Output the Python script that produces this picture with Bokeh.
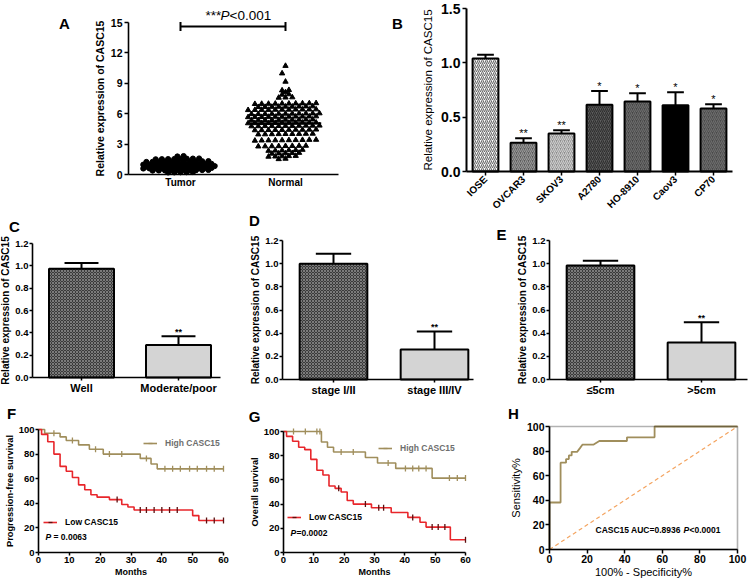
import numpy as np
from bokeh.plotting import figure
from bokeh.layouts import column, row
from bokeh.models import (Range1d, FixedTicker, Label, Legend, LegendItem, BoxAnnotation,
                          ColumnDataSource, PrintfTickFormatter)
from bokeh.core.properties import value
from bokeh.embed import file_html
from bokeh.resources import INLINE

FONT = "Liberation Sans"

# ======================= DATA =======================
# ---- Panel A: scatter of relative expression ----
a_groups = ["Tumor", "Normal"]
a_tumor = [
    1.82, 1.78,
    1.52, 1.56, 1.50, 1.58, 1.54, 1.53, 1.57, 1.51,
    1.26, 1.30, 1.28, 1.24, 1.32, 1.27, 1.29, 1.25, 1.31, 1.28, 1.30,
    1.02, 1.00, 1.04, 0.98, 1.03, 0.99, 1.01, 1.05, 0.97, 1.02, 1.00, 1.03,
    0.80, 0.82, 0.78, 0.81, 0.79, 0.83, 0.77, 0.80, 0.82, 0.78, 0.81, 0.79,
    0.62, 0.60, 0.64, 0.61, 0.63, 0.59, 0.62, 0.65, 0.60, 0.63, 0.61, 0.62,
    0.42, 0.40, 0.44, 0.41, 0.43, 0.39, 0.42, 0.45, 0.40, 0.43,
    0.22, 0.20, 0.24, 0.21, 0.23,
]
a_normal = [
    10.72, 9.98, 9.16,
    8.34, 8.30, 8.12,
    7.92, 7.88,
    7.62, 7.58, 7.60,
    7.00, 6.98, 7.02, 6.96, 7.04, 6.99, 7.01, 6.97, 7.03, 7.00,
    6.68, 6.70, 6.66, 6.72, 6.69, 6.71, 6.67, 6.73, 6.70,
    6.38, 6.40, 6.42, 6.36, 6.41, 6.39, 6.37, 6.43, 6.40, 6.38, 6.42,
    6.02, 5.98, 6.00, 6.04, 5.96, 6.01, 5.99, 6.03, 5.97, 6.00, 6.02,
    5.72, 5.68, 5.70, 5.74, 5.66, 5.71, 5.69, 5.73, 5.67, 5.70, 5.72,
    5.38, 5.40, 5.36, 5.42, 5.39, 5.41, 5.37, 5.43, 5.40, 5.38,
    5.08, 5.10, 5.06, 5.12, 5.09, 5.11, 5.07, 5.13, 5.10, 5.08, 5.12,
    4.78, 4.80, 4.76, 4.82, 4.79, 4.81, 4.77, 4.83, 4.80, 4.78, 4.82,
    4.42, 4.40, 4.38, 4.44, 4.41, 4.39, 4.43, 4.37, 4.40, 4.42,
    4.00, 3.98, 3.96, 4.02, 3.99, 4.01, 3.97, 4.03, 4.00,
    3.38, 3.36, 3.40, 3.42, 3.34, 3.39, 3.41, 3.37, 3.43, 3.38,
    2.82, 2.80, 2.78, 2.84, 2.81, 2.79, 2.83, 2.77,
    2.40, 2.36, 2.44, 2.38, 2.42, 2.34,
    2.10, 2.08, 2.12, 2.06, 2.14,
    1.80, 1.78, 1.82, 1.76, 1.84,
    1.52, 1.56,
]
a_yticks = [0, 3, 6, 9, 12, 15]
a_sig = ["***", "P", "<0.001"]
a_bracket_y = 14.6

# ---- Panel B: cell lines ----
b_cells = ["IOSE", "OVCAR3", "SKOV3", "A2780", "HO-8910", "Caov3", "CP70"]
b_mean = [1.04, 0.265, 0.35, 0.615, 0.645, 0.61, 0.58]
b_sem = [0.035, 0.04, 0.03, 0.125, 0.075, 0.12, 0.04]
b_sig = ["", "**", "**", "*", "*", "*", "*"]
b_yticks = [0.0, 0.5, 1.0, 1.5]

# ---- Panels C, D, E ----
cde_yticks = [0.0, 0.2, 0.4, 0.6, 0.8, 1.0, 1.2]
c_groups = ["Well", "Moderate/poor"]
c_mean = [0.975, 0.29]
c_sem = [0.05, 0.08]
c_sig = ["", "**"]
d_groups = ["stage I/II", "stage III/IV"]
d_mean = [1.0, 0.26]
d_sem = [0.085, 0.155]
d_sig = ["", "**"]
e_groups = ["\u22645cm", ">5cm"]
e_mean = [0.985, 0.32]
e_sem = [0.04, 0.175]
e_sig = ["", "**"]

# ---- Panel F: progression-free survival ----
km_end = 60
f_high_t = [0, 2, 7, 9, 13, 16.5, 21, 33, 36.5, 38.5]
f_high_s = [100, 97, 94, 91, 87.5, 84, 80, 76.5, 72, 68]
f_high_cens = [5, 11, 18.5, 23, 27, 35, 41, 43.5, 46, 49, 51.5, 54.5, 57, 60]
f_low_t = [0, 1, 3, 5, 7, 9, 11, 13, 15, 17, 19, 23, 27, 29, 31, 50, 52]
f_low_s = [100, 96, 90, 80, 70, 66, 61, 55, 51, 47, 45, 43, 39, 37, 34.5, 30, 26]
f_low_cens = [25.5, 33, 35, 37.5, 40, 42.5, 45, 54.5, 57, 60]

# ---- Panel G: overall survival ----
g_high_t = [0, 12.5, 14.5, 16.5, 27, 31, 37, 49]
g_high_s = [100, 91.3, 87, 83, 78.5, 74, 69.5, 61.5]
g_high_cens = [3.3, 7.2, 11, 12, 19, 23, 34.5, 40.2, 42.6, 44.6, 47, 54.7, 57.3, 60]
g_low_t = [0, 1, 3, 5, 7, 9, 11, 13, 15, 17, 19, 21, 23, 29, 35.5, 41, 45, 47, 55]
g_low_s = [100, 96, 92, 87, 85, 77, 68, 64, 55, 53, 50, 43, 40, 37, 33, 29, 25, 21, 10.5]
g_low_cens = [18.2, 27, 31.4, 33, 42.6, 49, 51, 53.2, 60]
km_xticks = [0, 10, 20, 30, 40, 50, 60]
km_yticks = [0, 20, 40, 60, 80, 100]

# ---- Panel H: ROC ----
h_fpr = [0, 0, 5.9, 5.9, 8.8, 8.8, 10.3, 10.3, 11.8, 11.8, 14.7, 16.2, 17.6, 23.5,
         26.5, 41.2, 41.2, 55.9, 55.9, 100]
h_tpr = [0, 38.2, 38.2, 70.6, 70.6, 73.5, 73.5, 76.5, 76.5, 79.4, 79.4, 82.4, 85.3, 85.3,
         88.2, 88.2, 91.2, 91.2, 100, 100]
h_chance = [0, 100]
h_ticks = [0, 20, 40, 60, 80, 100]

# ======================= STYLES =======================
C_HIGH = "#A08E5C"
C_LOW = "#E8262B"
b_fill = ["white", "#5a5a5a", "#8c8c8c", "#5e5e5e", "#454545", "black", "#4a4a4a"]
b_hcol = ["#6a6a6a", "#9a9a9a", "#d0d0d0", "#2e2e2e", "#6e6e6e", "black", "#6e6e6e"]
b_hpat = ["/", "/", "/", "/", "/", " ", "/"]
cde_fill = ["#3a3a3a", "#d4d4d4"]
cde_hpat = ["x", " "]


def lin_range(size, p1, v1, p2, v2, flip=False):
    s = (v2 - v1) / (p2 - p1)
    a = v1 - p1 * s
    b = v1 + (size - p1) * s
    return (b, a) if flip else (a, b)


class Geo:
    """Pixel geometry of one panel: figure size and two pixel<->value anchors per axis."""

    def __init__(self, w, h, xmap, ymap):
        self.w, self.h = w, h
        self.xr = lin_range(w, *xmap)
        self.yr = lin_range(h, *ymap, flip=True)

    def data(self, px, py):
        x = self.xr[0] + px * (self.xr[1] - self.xr[0]) / self.w
        y = self.yr[1] - py * (self.yr[1] - self.yr[0]) / self.h
        return x, y


def base_fig(g, xfix, yfix, xb, yb, tick_out=4, standoff=2, alstand=2):
    p = figure(width=g.w, height=g.h, x_range=Range1d(*g.xr), y_range=Range1d(*g.yr),
               output_backend="svg", toolbar_location=None, min_border=0)
    p.xgrid.visible = False
    p.ygrid.visible = False
    p.outline_line_color = None
    p.background_fill_color = "white"
    p.border_fill_color = "white"
    p.xaxis.fixed_location = xfix
    p.yaxis.fixed_location = yfix
    p.xaxis.bounds = xb
    p.yaxis.bounds = yb
    for ax in (p.xaxis[0], p.yaxis[0]):
        ax.axis_line_color = "black"
        ax.axis_line_width = 1.6
        ax.major_tick_line_color = "black"
        ax.major_tick_line_width = 1.5
        ax.major_tick_in = 0
        ax.major_tick_out = tick_out
        ax.minor_tick_line_color = None
        ax.major_label_text_font = FONT
        ax.major_label_text_font_style = "bold"
        ax.major_label_text_color = "black"
        ax.axis_label_text_font = FONT
        ax.axis_label_text_color = "black"
        ax.axis_label_text_font_style = "bold"
        ax.major_label_standoff = standoff
        ax.axis_label_standoff = alstand
    return p


def label(p, x, y, text, size, style="bold", align="left", baseline="middle", xoff=0,
          color="black"):
    p.add_layout(Label(x=x, y=y, text=text, text_font=FONT, text_font_size=size,
                       text_font_style=style, text_align=align, text_baseline=baseline,
                       x_offset=xoff, text_color=color))


def label_px(p, g, px, py, text, size, **kw):
    x, y = g.data(px, py)
    label(p, x, y, text, size, **kw)


def letter(p, g, px, py, txt):
    label_px(p, g, px, py, txt, "15px", align="center")


def error_bars(p, xs, means, errs, cap_w, lw=2):
    tops = [m + e for m, e in zip(means, errs)]
    p.segment(x0=xs, y0=means, x1=xs, y1=tops, line_color="black", line_width=lw)
    p.segment(x0=[x - cap_w / 2 for x in xs], y0=tops, x1=[x + cap_w / 2 for x in xs],
              y1=tops, line_color="black", line_width=lw)
    return tops


def swarm_offsets(vals, spacing, gap=0.1):
    """Row-wise scatter layout: alternate rows sit on a half-step shifted lattice."""
    vals = np.asarray(vals, dtype=float)
    order = np.argsort(vals)
    offs = np.zeros(len(vals))
    clusters, cur = [], [order[0]]
    for a, b in zip(order[:-1], order[1:]):
        if vals[b] - vals[a] > gap:
            clusters.append(cur)
            cur = [b]
        else:
            cur.append(b)
    clusters.append(cur)
    for k, c in enumerate(clusters):
        n = len(c)
        half = 0.5 if k % 2 else 0.0
        cand = sorted([m + half for m in range(-n - 1, n + 2)], key=lambda v: (abs(v), v))[:n]
        cand.sort()
        for j, idx in enumerate(c):
            offs[idx] = cand[j] * spacing
    return offs


# ======================= PANEL A =======================
gA = Geo(380, 212, (180, 1, 285, 2), (174, 0, 22, 15))
xa0 = gA.data(128, 0)[0]
xa1 = gA.data(338, 0)[0]
pA = base_fig(gA, 0, xa0, (xa0, xa1), (0, 15))
pA.yaxis.ticker = FixedTicker(ticks=a_yticks)
pA.yaxis.major_label_text_font_size = "10.5px"
pA.yaxis.axis_label = "Relative expression of CASC15"
pA.yaxis.axis_label_text_font_size = "10.5px"
pA.xaxis.ticker = FixedTicker(ticks=[1, 2])
pA.xaxis.major_label_overrides = {1: a_groups[0], 2: a_groups[1]}
pA.xaxis.major_label_text_font_size = "10px"
pA.xaxis.major_tick_out = 0

tx = 1 + swarm_offsets(a_tumor, 6.2 / 105.0)
nx = 2 + swarm_offsets(a_normal, 6.8 / 105.0)
pA.scatter(tx, a_tumor, marker="circle", size=5.2, fill_color="black", line_color="black")
pA.scatter(nx, a_normal, marker="triangle", size=5.3, fill_color="black", line_color="black")
means_a = [float(np.mean(a_tumor)), float(np.mean(a_normal))]
pA.segment(x0=[1 - 0.35, 2 - 0.34], x1=[1 + 0.35, 2 + 0.34], y0=means_a, y1=means_a,
           line_color="black", line_width=2.2)
pA.segment(x0=[1], x1=[2], y0=[a_bracket_y], y1=[a_bracket_y], line_color="black", line_width=2)
pA.segment(x0=[1, 2], x1=[1, 2], y0=[a_bracket_y - 0.45] * 2, y1=[a_bracket_y + 0.45] * 2,
           line_color="black", line_width=2)
for txt, px, st in zip(a_sig, [205, 220, 229], ["normal", "italic", "normal"]):
    label_px(pA, gA, px, 15, txt, "13.5px", style=st)
letter(pA, gA, 64, 23, "A")

# ======================= PANEL B =======================
gB = Geo(373, 212, (105, 0, 333, 6), (171, 0, 8, 1.5))
xb0 = gB.data(86, 0)[0]
xb1 = gB.data(352, 0)[0]
pB = base_fig(gB, 0, xb0, (xb0, xb1), (0, 1.5), standoff=2, alstand=4)
xb = list(range(len(b_cells)))
srcB = ColumnDataSource(dict(x=xb, top=b_mean, fill=b_fill, hcol=b_hcol, hpat=b_hpat))
pB.vbar(x="x", top="top", width=0.68, source=srcB, fill_color="fill", hatch_pattern="hpat",
        hatch_color="hcol", hatch_scale=4, hatch_weight=1.1, line_color="black", line_width=2)
topsB = error_bars(pB, xb, b_mean, b_sem, 0.44)
pB.text(x=xb, y=topsB, text=b_sig, text_align="center", text_baseline="bottom",
        text_font=value(FONT), text_font_size="11px", y_offset=1)
pB.yaxis.ticker = FixedTicker(ticks=b_yticks)
pB.yaxis.formatter = PrintfTickFormatter(format="%.1f")
pB.yaxis.major_label_text_font_size = "14px"
pB.yaxis.axis_label = "Relative expression of CASC15"
pB.yaxis.axis_label_text_font_size = "11.5px"
pB.yaxis.axis_label_text_font_style = "normal"
pB.yaxis.axis_line_width = 2
pB.xaxis.axis_line_width = 2
pB.xaxis.ticker = FixedTicker(ticks=xb)
pB.xaxis.major_label_overrides = {i: c for i, c in enumerate(b_cells)}
pB.xaxis.major_label_orientation = np.pi / 4
pB.xaxis.major_label_text_font_size = "10px"
letter(pB, gB, 17, 23, "B")


# ======================= PANELS C, D, E =======================
def two_bar(g, axis_px, end_px, groups, means, errs, sigs, let, lpx, lpy):
    x0 = g.data(axis_px, 0)[0]
    x1 = g.data(end_px, 0)[0]
    p = base_fig(g, 0, x0, (x0, x1), (0, 1.2), tick_out=3, standoff=1, alstand=1)
    xs = [0, 1]
    src = ColumnDataSource(dict(x=xs, top=means, fill=cde_fill, hpat=cde_hpat))
    p.vbar(x="x", top="top", width=0.67, source=src, fill_color="fill", hatch_pattern="hpat",
           hatch_color="#8c8c8c", hatch_scale=3, hatch_weight=0.8, line_color="black",
           line_width=2)
    tops = error_bars(p, xs, means, errs, 0.35)
    p.text(x=xs, y=tops, text=sigs, text_align="center", text_baseline="bottom",
           text_font=value(FONT), text_font_size="9px", text_font_style="bold", y_offset=1)
    p.yaxis.ticker = FixedTicker(ticks=cde_yticks)
    p.yaxis.formatter = PrintfTickFormatter(format="%.1f")
    p.yaxis.major_label_text_font_size = "9.5px"
    p.yaxis.axis_label = "Relative expression of CASC15"
    p.yaxis.axis_label_text_font_size = "10px"
    p.xaxis.ticker = FixedTicker(ticks=xs)
    p.xaxis.major_label_overrides = {i: gr for i, gr in enumerate(groups)}
    p.xaxis.major_label_text_font_size = "11px"
    letter(p, g, lpx, lpy, let)
    return p


gC = Geo(248, 184, (81, 0, 178, 1), (165, 0, 31, 1.2))
gD = Geo(247, 184, (85, 0, 186, 1), (167, 0, 28, 1.2))
gE = Geo(258, 184, (105, 0, 206, 1), (167, 0, 28, 1.2))
pC = two_bar(gC, 32, 220, c_groups, c_mean, c_sem, c_sig, "C", 14, 14)
pD = two_bar(gD, 34, 225, d_groups, d_mean, d_sem, d_sig, "D", 6, 8)
pE = two_bar(gE, 54, 252, e_groups, e_mean, e_sem, e_sig, "E", 6, 22)


# ======================= PANELS F, G =======================
def km(p, t, s, cens, color, tick_color):
    xs = list(t) + [km_end]
    ys = list(s) + [s[-1]]
    r = p.step(xs, ys, mode="after", line_color=color, line_width=1.6)
    idx = np.searchsorted(np.asarray(t, dtype=float), cens, side="right") - 1
    cy = [s[i] for i in idx]
    m = p.scatter(cens, cy, marker="dash", angle=np.pi / 2, size=6, line_color=tick_color,
                  line_width=1.3)
    return [r, m]


def add_legend(p, text, rends, loc, color):
    lg = Legend(items=[LegendItem(label=text, renderers=rends)], location=loc, padding=0,
                spacing=0, margin=0, border_line_color=None, background_fill_alpha=0,
                glyph_width=14, glyph_height=10, label_standoff=8, label_height=10,
                label_text_font=FONT, label_text_font_style="bold",
                label_text_font_size="8.5px", label_text_color=color,
                label_text_baseline="middle")
    p.add_layout(lg, "center")


def km_panel(g, ylab, ht, hs, hc, lt, ls, lc, hi_px, lo_px, p_px, p_text, p_off, let, lpx,
             lpy):
    p = base_fig(g, 0, 0, (0, 60), (0, 100), tick_out=3, standoff=1, alstand=1)
    p.xaxis.ticker = FixedTicker(ticks=km_xticks)
    p.yaxis.ticker = FixedTicker(ticks=km_yticks)
    p.xaxis.major_label_text_font_size = "9.5px"
    p.yaxis.major_label_text_font_size = "9.5px"
    p.xaxis.axis_label = "Months"
    p.xaxis.axis_label_text_font_size = "9px"
    p.yaxis.axis_label = ylab
    p.yaxis.axis_label_text_font_size = "9.3px"
    rh = km(p, ht, hs, hc, C_HIGH, C_HIGH)
    rl = km(p, lt, ls, lc, C_LOW, "#5a1010")
    add_legend(p, "High CASC15", rh, (hi_px[0], g.h - hi_px[1] - 5), "#6e6e6e")
    add_legend(p, "Low CASC15", rl, (lo_px[0], g.h - lo_px[1] - 5), "black")
    label_px(p, g, p_px[0], p_px[1], "P", "8.5px", style="bold italic")
    label_px(p, g, p_px[0], p_px[1], p_text, "8.5px", xoff=p_off)
    letter(p, g, lpx, lpy, let)
    return p


gF = Geo(248, 184, (38, 0, 223, 60), (156, 0, 33, 100))
gG = Geo(252, 184, (35, 0, 217, 60), (156, 0, 35, 100))
pF = km_panel(gF, "Progression-free survival", f_high_t, f_high_s, f_high_cens,
              f_low_t, f_low_s, f_low_cens, (143, 47), (43, 126), (45, 140), "= 0.0063", 8,
              "F", 11, 17)
pG = km_panel(gG, "Overall survival", g_high_t, g_high_s, g_high_cens,
              g_low_t, g_low_s, g_low_cens, (130, 52), (39, 121), (42, 136), "=0.0002", 6,
              "G", 6, 20)

# ======================= PANEL H =======================
gH = Geo(253, 184, (49, 0, 237, 100), (153, 0, 30, 100))
pH = base_fig(gH, 0, 0, (0, 100), (0, 100), tick_out=4, standoff=1, alstand=0)
pH.add_layout(BoxAnnotation(left=0, right=100, bottom=0, top=100, fill_alpha=0,
                            line_color="black", line_width=1.6))
pH.xaxis.ticker = FixedTicker(ticks=h_ticks)
pH.yaxis.ticker = FixedTicker(ticks=h_ticks)
pH.yaxis.axis_label_standoff = 2
pH.xaxis.major_label_text_font_size = "10.5px"
pH.yaxis.major_label_text_font_size = "10.5px"
pH.xaxis.axis_label = "100% - Specificity%"
pH.yaxis.axis_label = "Sensitivity%"
for ax in (pH.xaxis[0], pH.yaxis[0]):
    ax.axis_label_text_font_size = "11px"
    ax.axis_label_text_font_style = "normal"
pH.line(h_chance, h_chance, line_color="#F4A460", line_dash="4 3", line_width=1.2)
pH.line(h_fpr, h_tpr, line_color=C_HIGH, line_width=1.8)
label_px(pH, gH, 95, 133, "CASC15 AUC=0.8936", "8.5px")
label_px(pH, gH, 95, 133, "P", "8.5px", style="bold italic", xoff=88)
label_px(pH, gH, 95, 133, "<0.0001", "8.5px", xoff=94)
letter(pH, gH, 13, 17, "H")

layout = column(row(pA, pB), row(pC, pD, pE), row(pF, pG, pH))
open("out.html", "w").write(file_html(layout, INLINE))
